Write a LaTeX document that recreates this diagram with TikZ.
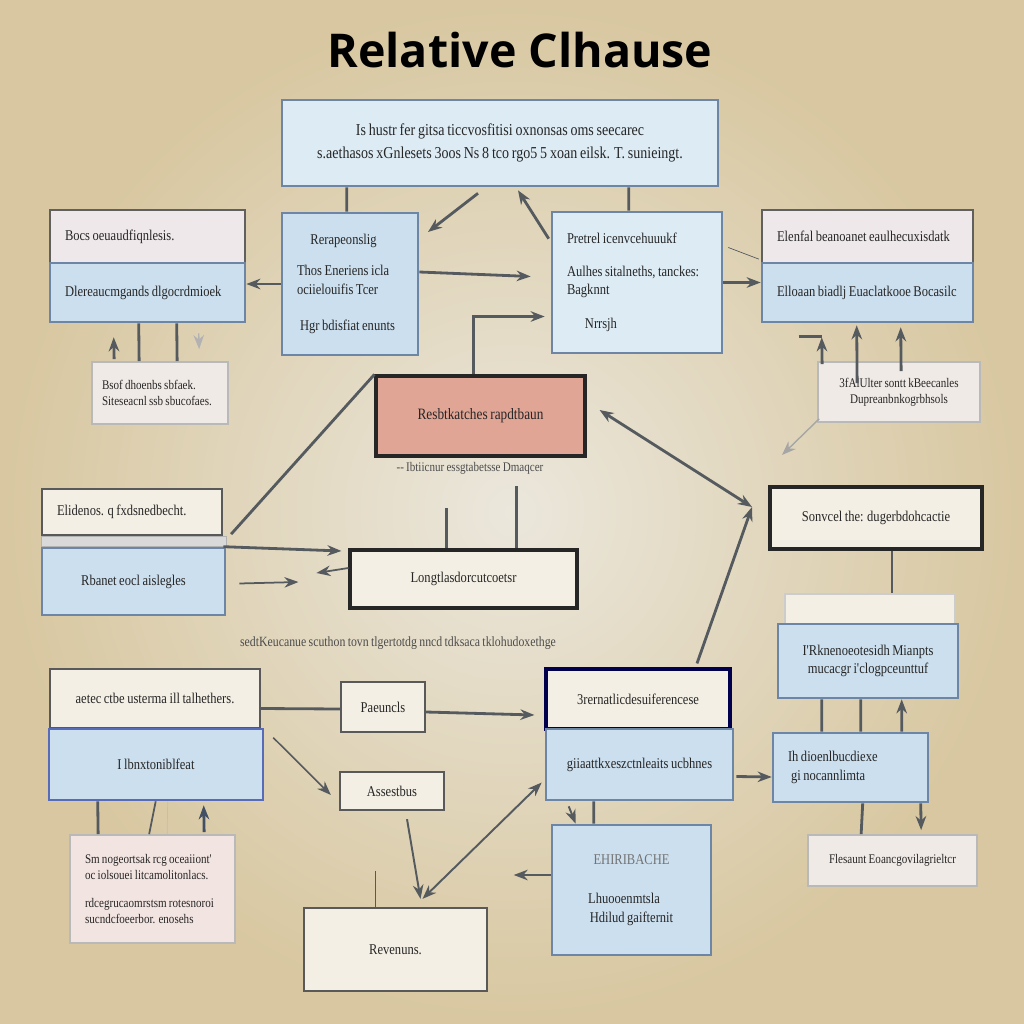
\documentclass[tikz,border=0pt]{standalone}
\usepackage{fontspec}
\setmainfont{Liberation Serif}
\newfontfamily\titlefont{Open Sans}
\newfontfamily\boxfont[FakeStretch=0.84, WordSpace=0.8]{Liberation Serif}
\usetikzlibrary{arrows.meta,calc}
\hyphenpenalty=10000

\definecolor{bgin}{HTML}{EBE7DC}
\definecolor{bgout}{HTML}{D8C7A0}
\definecolor{skyblue}{HTML}{DCEBF4}
\definecolor{boxblue}{HTML}{CCDFEE}
\definecolor{boxedge}{HTML}{6D86A6}
\definecolor{lavender}{HTML}{EEE8EB}
\definecolor{cream}{HTML}{F4EFE4}
\definecolor{salmon}{HTML}{E1A596}
\definecolor{notefill}{HTML}{F0EAE6}
\definecolor{linegray}{HTML}{555A5F}

\begin{document}
\begin{tikzpicture}[x=0.02cm, y=-0.02cm,
    box/.style={rectangle, inner xsep=0.3cm, inner ysep=2pt, text=black!85,
        font=\boxfont\fontsize{8.5}{10.5}\selectfont},
    bluebox/.style={box, fill=boxblue, draw=boxedge, line width=1.5pt},
    palebox/.style={box, fill=lavender, draw=gray!75!black, line width=1.3pt},
    creambox/.style={box, fill=cream, draw=gray!70!black, line width=1.3pt},
    darkbox/.style={box, fill=cream, draw=black!85, line width=1.8pt},
    notebox/.style={box, fill=notefill, draw=gray!55, line width=1pt,
        font=\boxfont\fontsize{7.5}{9}\selectfont},
    link/.style={draw=linegray, line width=1.6pt},
    arr/.style={link, -{Stealth[length=8pt,width=6pt]}},
]

    % -------------------------------
    % background and title
    % -------------------------------
    \shade[inner color=bgin, outer color=bgout] (0,0) rectangle (1024,1024);
    \useasboundingbox (0,0) rectangle (1024,1024);
    \node[font=\titlefont\bfseries\fontsize{26.5}{29}\selectfont] (title) at (520,50) {Relative Clhause};

    % -------------------------------
    % top row
    % -------------------------------
    \node[bluebox, fill=skyblue, text width=8.12cm, minimum height=1.72cm, align=flush center,
          font=\boxfont\fontsize{9.5}{11}\selectfont] (top) at (500,143)
        {Is hustr fer gitsa ticcvosfitisi oxnonsas oms seecarec\\[2pt]
         s.aethasos xGnlesets 3oos Ns 8 tco rgo5 5 xoan eilsk. T. sunieingt.};

    \node[palebox, text width=3.3cm, minimum height=1.06cm, align=flush left] (ltA) at (147.5,236.5) {Bocs oeuaudfiqnlesis.};
    \node[bluebox, text width=3.3cm, minimum height=1.18cm, align=flush left] (ltB) at (147.5,292.5) {Dlereaucmgands dlgocrdmioek};

    \node[bluebox, text width=2.12cm, minimum height=2.84cm, align=flush left] (rel) at (350,284)
        {\hspace*{0.9em}Rerapeonslig\\[7pt]
         Thos Eneriens icla\\ ociielouifis Tcer\\[10pt]
         \hspace*{0.2em}Hgr bdisfiat enunts};

    \node[bluebox, fill=skyblue, text width=2.8cm, minimum height=2.82cm, align=flush left] (pre) at (637,282.5)
        {Pretrel icenvcehuuukf\\[8pt]
         Aulhes sitalneths, tanckes:\\ Bagknnt\\[9pt]
         \hspace*{1.2em}Nrrsjh};

    \node[palebox, text width=3.62cm, minimum height=1.06cm, align=flush left] (rtA) at (867.5,236.5) {Elenfal beanoanet eaulhecuxisdatk};
    \node[bluebox, text width=3.62cm, minimum height=1.18cm, align=flush left] (rtB) at (867.5,292.5) {Elloaan biadlj Euaclatkooe Bocasilc};

    \node[notebox, text width=2.64cm, minimum height=1.2cm, align=flush center] (rnote) at (899,392)
        {3fAlUlter sontt kBeecanles\\ Dupreanbnkogrbhsols};
    \node[notebox, inner xsep=0.2cm, text width=2.32cm, minimum height=1.24cm, align=flush left] (lnote) at (160,393)
        {Bsof dhoenbs sbfaek.\\ Siteseacnl ssb sbucofaes.};

    % -------------------------------
    % middle row
    % -------------------------------
    \node[darkbox, fill=salmon, text width=3.58cm, minimum height=1.6cm, align=flush center,
          font=\boxfont\fontsize{9}{11}\selectfont] (red) at (480.5,416) {Resbtkatches rapdtbaun};
    \node[font=\boxfont\fontsize{7.5}{9}\selectfont, text=black!70] (redcap) at (470,468)
        {-- Ibtiicnur essgtabetsse Dmaqcer};

    \node[creambox, text width=3.0cm, minimum height=0.92cm, align=flush left] (lmA) at (132,512) {Elidenos. q fxdsnedbecht.};
    \node[bluebox, text width=3.06cm, minimum height=1.34cm, align=flush center] (lmB) at (133.5,581.5) {Rbanet eocl aislegles};
    \fill[gray!30, draw=gray!60] (lmA.south west) rectangle (lmB.north east);

    \node[darkbox, text width=3.94cm, minimum height=1.16cm, align=flush center] (longt) at (463.5,579) {Longtlasdorcutcoetsr};
    \node[darkbox, text width=3.64cm, minimum height=1.24cm, align=flush center] (sonct) at (876,518) {Sonvcel the: dugerbdohcactie};

    \node[font=\boxfont\fontsize{8}{10}\selectfont, text=black!70] (caption) at (398,643)
        {sedtKeucanue scuthon tovn tlgertotdg nncd tdksaca tklohudoxethge};

    \node[creambox, draw=gray!40, text width=2.8cm, minimum height=0.6cm] (rmA) at (870,609) {};
    \node[bluebox, text width=3.0cm, minimum height=1.48cm, align=flush center] (rmB) at (868,661)
        {I'Rknenoeotesidh Mianpts\\ mucacgr i'clogpceunttuf};

    % -------------------------------
    % bottom row
    % -------------------------------
    \node[darkbox, draw=black!70!blue, text width=3.08cm, minimum height=1.2cm, align=flush center] (genA) at (638,699) {3rernatlicdesuiferencese};
    \node[bluebox, text width=3.14cm, minimum height=1.42cm, align=flush center] (genB) at (639.5,764.5) {giiaattkxeszctnleaits ucbhnes};

    \node[bluebox, text width=2.5cm, minimum height=1.38cm, align=flush left] (fhd) at (850.5,767.5)
        {Ih dioenlbucdiexe\\ \hspace*{0.2em}gi nocannlimta};
    \node[notebox, text width=2.78cm, minimum height=1.02cm, align=flush center] (fnote) at (892.5,860.5) {Flesaunt Eoancgovilagrieltcr};

    \node[creambox, text width=3.6cm, minimum height=1.18cm, align=flush center] (lbA) at (155,698.5) {aetec ctbe usterma ill talhethers.};
    \node[bluebox, draw=boxedge!80!blue, text width=3.68cm, minimum height=1.42cm, align=flush center] (lbB) at (156,764.5) {I lbnxtoniblfeat};

    \node[creambox, text width=1.08cm, minimum height=1.0cm, align=flush center] (paeu) at (383,707) {Paeuncls};
    \node[creambox, text width=1.48cm, minimum height=0.76cm, align=flush center] (asse) at (392,791) {Assestbus};
    \node[creambox, text width=3.06cm, minimum height=1.66cm, align=flush center] (reven) at (395.5,949.5) {Revenuns.\\[14pt]};

    \node[notebox, fill=notefill!85!pink, text width=2.7cm, minimum height=2.16cm, align=flush left] (lbnote) at (152.5,889)
        {Sm nogeortsak rcg oceaiiont'\\ oc iolsouei litcamolitonlacs.\\[7pt]
         rdcegrucaomrstsm rotesnoroi\\ sucndcfoeerbor. enosehs};

    \node[bluebox, text width=2.58cm, minimum height=2.6cm, align=flush center] (eiiric) at (631.5,890)
        {{\color{black!55}EHIRIBACHE}\\[12pt]
         \hspace*{-1em}Lhuooenmtsla\\ Hdilud gaifternit\\[8pt]};

    % -------------------------------
    % connectors, top part
    % -------------------------------
    \coordinate (tipA) at (428,232);
    \coordinate (tipB) at (782,455);
    \coordinate (hub) at (752,507);

    \draw[link] ($(top.south west)+(66,0)$) -- ($(rel.north west)+(66,0)$);
    \draw[link] ($(top.south west)+(348,0)$) -- ($(pre.north west)+(78,0)$);
    \draw[arr] ($(top.south)+(-22,6)$) -- (tipA);
    \draw[arr] ($(pre.north west)+(-2,28)$) -- ($(top.south)+(18,3)$);

    \draw[arr] (rel.west) -- (rel.west -| ltB.east);
    \draw[arr] ($(rel.east)+(0,-12)$) -- ($(pre.west)+(-20,-6)$);
    \draw[arr] ($(red.north)+(-7,0)$) |- ($(pre.west)+(-6,34)$);
    \draw[arr] (pre.east) -- (pre.east -| rtB.west);
    \draw[linegray, thin] ($(pre.east)+(5,-35)$) -- ($(rtA.south west)+(-2,-5)$);

    % right note
    \draw[arr] ($(rnote.north west)+(40,22)$) -- ($(rtB.south west)+(96,2)$);
    \draw[arr] ($(rnote.north west)+(84,10)$) -- ($(rtB.south west)+(140,4)$);
    \draw[arr] ($(rnote.north west)+(5,3)$) -- ($(rtB.south west)+(61,14)$);
    \draw[link] ($(rtB.south west)+(38,13)$) -- ($(rtB.south west)+(61,13)$);
    \draw[arr, draw=gray!70, line width=0.8pt] ($(rnote.south west)+(2,-4)$) -- (tipB);

    % left note
    \draw[link] ($(ltB.south west)+(90,0)$) -- ($(lnote.north west)+(48,0)$);
    \draw[link] ($(ltB.south west)+(128,0)$) -- ($(lnote.north west)+(86,0)$);
    \draw[arr] ($(lnote.north west)+(23,-2)$) -- ($(ltB.south west)+(65,14)$);
    \draw[arr, draw=gray!60, line width=0.8pt] ($(ltB.south west)+(150,10)$) -- ($(lnote.north west)+(108,-12)$);

    % -------------------------------
    % connectors, middle part
    % -------------------------------
    \draw[link] ($(lmA.south east)+(8,-2)$) -- (red.north west);
    \draw[arr, {Stealth[length=8pt,width=6pt]}-{Stealth[length=8pt,width=6pt]}] ($(red.east)+(13,-6)$) -- (hub);
    \draw[arr] ($(genA.north)+(59,-4)$) -- (hub);

    \draw[link] ($(longt.north west)+(98,-40)$) -- ($(longt.north west)+(98,0)$);
    \draw[link] ($(longt.north west)+(168,-62)$) -- ($(longt.north west)+(168,0)$);
    \draw[arr] ($(lmB.north east)+(-3,0)$) -- ($(longt.west)+(-7,-28)$);
    \draw[arr, line width=1pt] ($(lmB.east)+(13,2)$) -- ($(longt.west)+(-50,3)$);
    \draw[arr, line width=1pt] ($(longt.west)+(0,-11)$) -- ($(longt.west)+(-32,-6)$);

    \draw[link] ($(sonct.south)+(16,0)$) -- ($(rmA.north)+(22,0)$);
    \foreach \dx/\ex in {45/50, 84/89} {
        \draw[link] ($(rmB.south west)+(\dx,0)$) -- ($(fhd.north west)+(\ex,0)$);
    }
    \draw[arr] ($(fhd.north west)+(130,0)$) -- ($(rmB.south west)+(125,0)$);

    % -------------------------------
    % connectors, bottom part
    % -------------------------------
    \draw[arr] ($(genB.east)+(2,12)$) -- ($(fhd.west)+(0,9.5)$);
    \draw[link] ($(fhd.south west)+(91,0)$) -- ($(fnote.north west)+(54,0)$);
    \draw[arr] ($(fhd.south west)+(149,0)$) -- ($(fnote.north west)+(114,-4)$);

    \draw[link] ($(lbA.east)+(0,10)$) -- ($(paeu.west)+(0,2)$);
    \draw[arr] ($(paeu.east)+(0,5)$) -- ($(genA.west)+(-10,16)$);
    \draw[arr, line width=0.9pt] ($(lbB.north east)+(9,10)$) -- ($(asse.west)+(-8,4)$);
    \draw[arr, line width=1.1pt] ($(asse.south)+(15,8)$) -- ($(reven.north)+(25,-8)$);
    \draw[arr, line width=1.1pt, {Stealth[length=8pt,width=6pt]}-{Stealth[length=8pt,width=6pt]}] ($(genB.west)+(-3,18)$) -- ($(reven.north)+(27,-8)$);
    \draw[link, line width=1.1pt] ($(reven.north)+(-20,-36)$) -- ($(reven.north)+(-20,0)$);
    \draw[arr] ($(eiiric.west)+(0,-15)$) -- ($(eiiric.west)+(-37,-15)$);
    \draw[arr, line width=1.1pt] ($(genB.south west)+(24,5)$) -- ($(eiiric.north west)+(25,0)$);
    \draw[link] ($(genB.south west)+(49,0)$) -- ($(eiiric.north west)+(43,0)$);

    \draw[link] ($(lbB.south west)+(50,0)$) -- ($(lbnote.north west)+(29,0)$);
    \draw[link, line width=1pt] ($(lbB.south west)+(108,0)$) -- ($(lbnote.north west)+(80,0)$);
    \draw[gray!50, thin] ($(lbB.south west)+(120,0)$) -- ($(lbnote.north west)+(98,0)$);
    \draw[arr, draw=boxedge!60!black] ($(lbnote.north west)+(135,-2)$) -- ($(lbB.south west)+(156,4)$);

\end{tikzpicture}
\end{document}
